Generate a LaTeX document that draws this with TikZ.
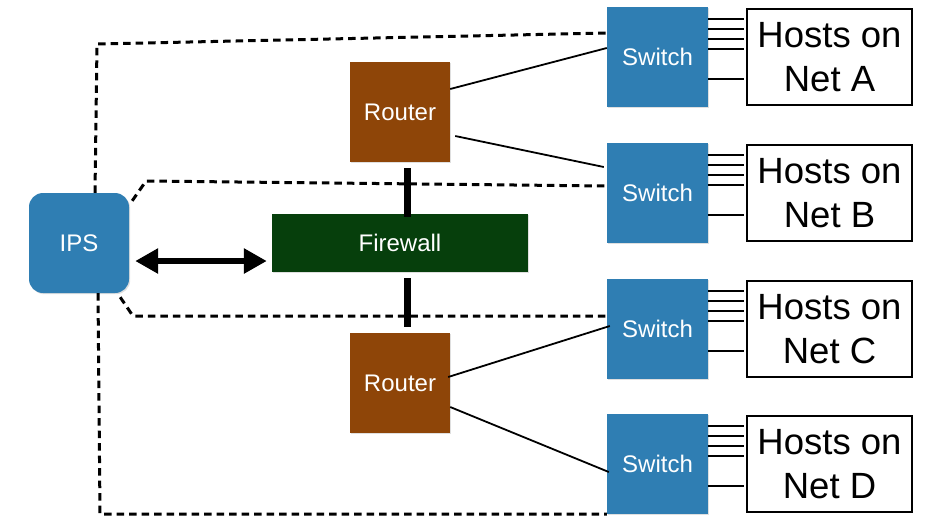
\documentclass[tikz,border=0pt]{standalone}
\usepackage{fontspec}
\setmainfont{Liberation Sans}
\usetikzlibrary{arrows.meta,shadows}
\definecolor{swblue}{HTML}{2F7EB3}
\definecolor{rtbrown}{HTML}{8E4508}
\definecolor{fwgreen}{HTML}{063F0C}
\tikzset{
  shad/.style={drop shadow={opacity=0.25,shadow xshift=1.2pt,shadow yshift=-1.2pt}},
  lbl/.style={text=white,font=\fontsize{24}{28}\selectfont},
  switchbox/.style={shad,lbl,fill=swblue,minimum width=101pt,minimum height=100pt,inner sep=0pt},
  routerbox/.style={shad,lbl,fill=rtbrown,minimum width=100pt,minimum height=100pt,inner sep=0pt},
  fwbox/.style={shad,lbl,fill=fwgreen,minimum width=256pt,minimum height=58pt,inner sep=0pt},
  ipsbox/.style={shad,lbl,fill=swblue,rounded corners=14pt,minimum width=100pt,minimum height=100pt,inner sep=0pt},
  hostbox/.style={draw=black,line width=2pt,fill=white,minimum width=165pt,minimum height=96pt,inner sep=0pt,align=center,font=\fontsize{36.5}{44}\selectfont},
  hostline/.style={line width=2pt},
  rline/.style={line width=1.8pt},
  thickline/.style={line width=7pt},
  dashline/.style={line width=3pt,dash pattern=on 7.5pt off 5pt},
  dbl/.style={line width=6pt,{Triangle[length=23pt,width=24pt]}-{Triangle[length=23pt,width=24pt]}}
}
\begin{document}
\begin{tikzpicture}[x=1pt,y=-1pt]
\useasboundingbox (0,0) rectangle (928,531);
% nodes
\node[ipsbox] (ips) at (79,243) {IPS};
\node[fwbox] (fw) at (400,243) {Firewall};
\node[routerbox] (rt) at (400,112) {Router};
\node[routerbox] (rb) at (400,383) {Router};
\node[switchbox] (swA) at (657.5,57) {Switch};
\node[switchbox] (swB) at (657.5,193) {Switch};
\node[switchbox] (swC) at (657.5,329) {Switch};
\node[switchbox] (swD) at (657.5,464) {Switch};
\node[hostbox] (hA) at (829.5,57) {Hosts on\\Net A};
\node[hostbox] (hB) at (829.5,193) {Hosts on\\Net B};
\node[hostbox] (hC) at (829.5,329) {Hosts on\\Net C};
\node[hostbox] (hD) at (829.5,464) {Hosts on\\Net D};
% host lines
\foreach \s/\h in {swA/hA,swB/hB,swC/hC,swD/hD}{
  \foreach \d in {38,28,18,8,-22}{
    \draw[hostline] ([yshift=\d pt]\s.east) -- ([yshift=\d pt,xshift=-2pt]\h.west);
  }
}
% router to switch lines
\draw[rline] ([yshift=23pt]rt.east) -- ([yshift=9pt]swA.west);
\draw[rline] ([xshift=5pt,yshift=-24pt]rt.east) -- ([xshift=-3pt,yshift=26pt]swB.west);
\draw[rline] ([xshift=-2pt,yshift=6pt]rb.east) -- ([xshift=3pt,yshift=3pt]swC.west);
\draw[rline] ([yshift=-24pt]rb.east) -- ([xshift=2pt,yshift=-8pt]swD.west);
% thick lines router - firewall
\draw[thickline] ([xshift=7pt,yshift=-6pt]rt.south) -- ([xshift=7pt,yshift=-3pt]fw.north);
\draw[thickline] ([xshift=7pt,yshift=-6pt]fw.south) -- ([xshift=7pt,yshift=6pt]rb.north);
% dashed lines
\coordinate (cA) at (97,44);
\coordinate (cB) at (146,181);
\coordinate (cC) at (133,316);
\coordinate (cD) at (100,514);
\draw[dashline] ([xshift=16pt]ips.north) -- (cA) -- ([yshift=24pt]swA.west);
\draw[dashline] ([xshift=3pt,yshift=-8pt]ips.north east) -- (cB) -- ([yshift=7pt]swB.west);
\draw[dashline] ([xshift=-9pt,yshift=-4pt]ips.south east) -- (cC) -- ([yshift=13pt]swC.west);
\draw[dashline] ([xshift=19pt]ips.south) -- (cD) -- ([yshift=-50pt]swD.west);
% double arrow
\draw[dbl] ([xshift=6pt,yshift=-18pt]ips.east) -- ([xshift=-5pt,yshift=-18pt]fw.west);
\end{tikzpicture}
\end{document}
